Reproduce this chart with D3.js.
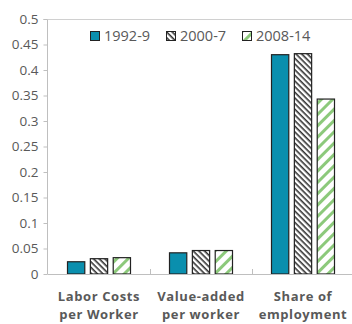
<!DOCTYPE html>
<html><head><meta charset="utf-8">
<script src="https://cdn.jsdelivr.net/npm/d3@7"></script>
<style>body{margin:0;background:#fff}svg{display:block}text{font-family:"Open Sans","DejaVu Sans",sans-serif}</style>
</head><body>
<script>
const categories = [["Labor Costs","per Worker"],["Value-added","per worker"],["Share of","employment"]];
const seriesNames = ["1992-9","2000-7","2008-14"];
const s1992 = [0.025, 0.0425, 0.431];
const s2000 = [0.031, 0.047, 0.433];
const s2008 = [0.033, 0.047, 0.344];
const yTicks = [0,0.05,0.1,0.15,0.2,0.25,0.3,0.35,0.4,0.45,0.5];
const series = [s1992, s2000, s2008];

const W=352,H=324;
const svg=d3.select("body").append("svg").attr("width",W).attr("height",H);
const defs=svg.append("defs");
const p1=defs.append("pattern").attr("id","hatchA").attr("patternUnits","userSpaceOnUse").attr("width",4).attr("height",4).attr("patternTransform","rotate(45)");
p1.append("rect").attr("width",4).attr("height",4).attr("fill","#fff");
p1.append("rect").attr("width",4).attr("height",1.6).attr("fill","#333");
const p2=defs.append("pattern").attr("id","hatchB").attr("patternUnits","userSpaceOnUse").attr("width",8).attr("height",8).attr("patternTransform","rotate(-45)");
p2.append("rect").attr("width",8).attr("height",8).attr("fill","#fff");
p2.append("rect").attr("width",8).attr("height",3).attr("fill","#8cc97b");
const fills=["#0a8fae","url(#hatchA)","url(#hatchB)"];

const x0=48,x1=354,yTop=19,yBot=274;
const y=d3.scaleLinear().domain([0,0.5]).range([yBot,yTop]);
const x=d3.scaleBand().domain(d3.range(categories.length)).range([x0,x1]).paddingInner(0).paddingOuter(0);
const xs=d3.scaleBand().domain(d3.range(3)).range([0,64]).paddingInner(0.2);
const bandOff=(x.bandwidth()-64)/2;

svg.append("line").attr("x1",x0).attr("x2",W).attr("y1",yTop+0.5).attr("y2",yTop+0.5).attr("stroke","#d0d0d0");
const ya=svg.append("g").attr("transform",`translate(${x0-0.5},0)`).call(d3.axisLeft(y).tickValues(yTicks).tickSize(4).tickPadding(5).tickFormat(d=>d3.format("")(+d.toFixed(2))));
ya.select(".domain").attr("stroke","#bfbfbf").attr("d",`M-4,${yTop+0.5}H0V${yBot+0.5}`);
ya.selectAll(".tick line").attr("stroke","#bfbfbf");
ya.selectAll(".tick text").attr("fill","#595959").attr("font-size",13.5).attr("font-family","'Open Sans',sans-serif");

const g=svg.append("g");
series.forEach((s,si)=>{
  g.selectAll(null).data(s).enter().append("rect")
   .attr("x",(d,i)=>x(i)+bandOff+xs(si)+0.5)
   .attr("y",d=>y(d)+0.5)
   .attr("width",xs.bandwidth()-1)
   .attr("height",d=>yBot-y(d)-0.5)
   .attr("fill",fills[si]).attr("stroke","#222").attr("stroke-width",1.2);
});
svg.append("line").attr("x1",x0).attr("x2",W).attr("y1",yBot+0.5).attr("y2",yBot+0.5).attr("stroke","#bfbfbf");
[1,2].forEach(i=>svg.append("line").attr("x1",x(i)+0.5).attr("x2",x(i)+0.5).attr("y1",yBot).attr("y2",yBot-5).attr("stroke","#bfbfbf"));
categories.forEach((c,i)=>{
  const cx=x(i)+x.bandwidth()/2;
  [0,1].forEach(k=>{
    svg.append("text").attr("x",cx).attr("y",k?319:301).attr("text-anchor","middle").attr("fill","#595959")
      .attr("font-weight","bold").attr("font-size",13).attr("letter-spacing",0.6).text(c[k]);
  });
});
const legX=[90,166,242];
seriesNames.forEach((n,i)=>{
  svg.append("rect").attr("x",legX[i]+0.5).attr("y",31.5).attr("width",9).attr("height",9).attr("fill",fills[i]).attr("stroke","#222");
  svg.append("text").attr("x",legX[i]+14).attr("y",40.5).attr("fill","#595959").attr("font-size",14.5).text(n);
});
</script>
</body></html>
